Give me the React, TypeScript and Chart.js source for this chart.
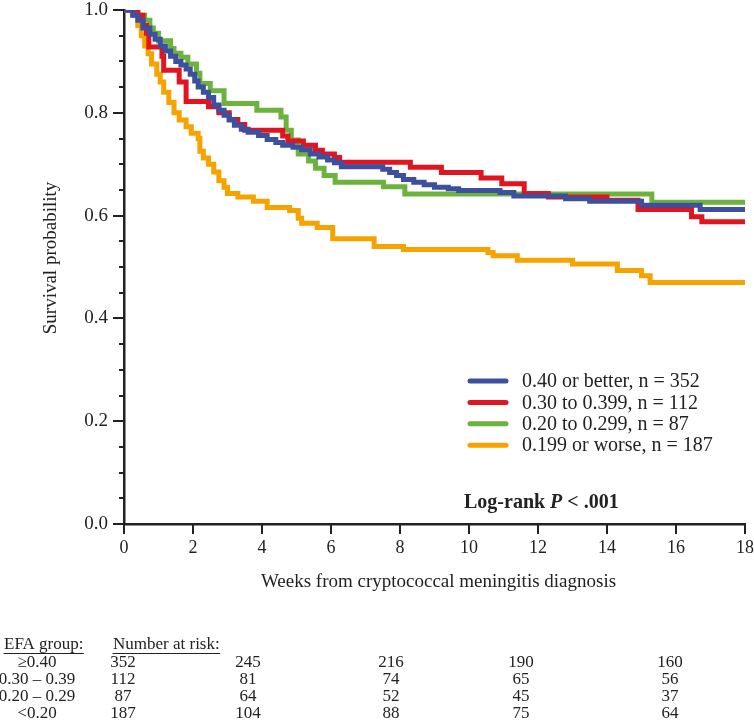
import React, { useEffect, useRef } from 'react';
import { Chart, registerables } from 'chart.js';

Chart.register(...registerables);

// ---------- data ----------
const seriesLabels = [
  '0.40 or better, n = 352',
  '0.30 to 0.399, n = 112',
  '0.20 to 0.299, n = 87',
  '0.199 or worse, n = 187',
];
const seriesColors = ['#3d4f9f', '#e2141f', '#6cb33e', '#f6a300'];

const blueWeeks = [0, 0.25, 0.4, 0.55, 0.75, 0.9, 1.05, 1.2, 1.35, 1.5, 1.65, 1.8, 1.92, 2.05, 2.15, 2.3, 2.45, 2.6, 2.75, 2.9, 3.05, 3.2, 3.4, 3.6, 3.9, 4.15, 4.4, 4.6, 4.9, 5.15, 5.4, 5.65, 5.9, 6.1, 6.3, 7.5, 7.7, 7.9, 8.1, 8.4, 8.7, 9.0, 9.4, 9.7, 10.9, 11.3, 12.8, 13.5, 15.0, 16.7, 18];
const blueSurv = [1.0, 0.99, 0.98, 0.965, 0.953, 0.943, 0.93, 0.92, 0.91, 0.9, 0.893, 0.885, 0.875, 0.862, 0.85, 0.84, 0.83, 0.815, 0.805, 0.795, 0.786, 0.776, 0.768, 0.762, 0.756, 0.748, 0.742, 0.737, 0.733, 0.728, 0.72, 0.714, 0.708, 0.703, 0.695, 0.69, 0.684, 0.678, 0.67, 0.665, 0.66, 0.655, 0.652, 0.649, 0.645, 0.638, 0.633, 0.628, 0.62, 0.612, 0.612];

const redWeeks = [0, 0.4, 0.55, 0.65, 0.72, 1.1, 1.15, 1.6, 1.8, 2.45, 2.75, 3.05, 3.3, 3.5, 4.6, 4.75, 5.2, 5.55, 5.75, 6.1, 6.25, 8.3, 9.2, 10.35, 10.95, 11.6, 12.3, 14.0, 14.9, 16.45, 16.75, 18];
const redSurv = [1.0, 0.99, 0.97, 0.955, 0.928, 0.91, 0.883, 0.86, 0.822, 0.812, 0.8, 0.787, 0.777, 0.766, 0.755, 0.745, 0.737, 0.727, 0.72, 0.713, 0.704, 0.694, 0.684, 0.673, 0.662, 0.643, 0.636, 0.63, 0.612, 0.598, 0.588, 0.588];

const greenWeeks = [0, 0.4, 0.6, 0.75, 0.85, 1.0, 1.35, 1.45, 1.65, 1.85, 2.1, 2.2, 2.5, 2.9, 3.85, 4.55, 4.7, 4.85, 5.05, 5.35, 5.55, 5.8, 6.12, 7.52, 8.14, 15.3, 18];
const greenSurv = [1.0, 0.99, 0.98, 0.965, 0.955, 0.94, 0.925, 0.916, 0.908, 0.895, 0.877, 0.857, 0.843, 0.818, 0.805, 0.792, 0.766, 0.747, 0.72, 0.706, 0.692, 0.678, 0.665, 0.656, 0.642, 0.626, 0.626];

const orangeWeeks = [0, 0.3, 0.4, 0.5, 0.6, 0.7, 0.8, 0.95, 1.05, 1.15, 1.3, 1.45, 1.6, 1.8, 1.95, 2.15, 2.2, 2.3, 2.45, 2.6, 2.75, 2.9, 3.0, 3.3, 3.75, 4.15, 4.8, 5.05, 5.15, 5.6, 6.05, 7.25, 8.1, 10.55, 10.7, 11.4, 13.0, 14.3, 15.0, 15.25, 18];
const orangeSurv = [1.0, 0.99, 0.97, 0.95, 0.93, 0.915, 0.895, 0.875, 0.86, 0.84, 0.82, 0.8, 0.786, 0.773, 0.76, 0.75, 0.725, 0.712, 0.7, 0.685, 0.668, 0.655, 0.643, 0.636, 0.628, 0.616, 0.61, 0.595, 0.585, 0.577, 0.555, 0.54, 0.534, 0.528, 0.522, 0.513, 0.506, 0.493, 0.483, 0.47, 0.47];

const xTickValues = [0, 2, 4, 6, 8, 10, 12, 14, 16, 18];
const yMajorTicks = [0, 0.2, 0.4, 0.6, 0.8, 1.0];
const yMinorTicks = [0.05, 0.1, 0.15, 0.25, 0.3, 0.35, 0.45, 0.5, 0.55, 0.65, 0.7, 0.75, 0.85, 0.9, 0.95];

const xTitle = 'Weeks from cryptococcal meningitis diagnosis';
const yTitle = 'Survival probability';

const riskGroupHeader = 'EFA group:';
const riskHeader = 'Number at risk:';
const riskGroups = ['\u22650.40', '0.30 \u2013 0.39', '0.20 \u2013 0.29', '<0.20'];
const riskCounts = [
  [352, 245, 216, 190, 160],
  [112, 81, 74, 65, 56],
  [87, 64, 52, 45, 37],
  [187, 104, 88, 75, 64],
];

// ---------- layout ----------
const FONT = '"Liberation Serif", "DejaVu Serif", serif';
const INK = '#222';
const riskColX = [123, 248, 391, 521, 670];
const riskRowY = [663, 680, 697, 714];

const decorPlugin = {
  id: 'decor',
  afterDraw(chart: any) {
    const ctx = chart.ctx;
    const xs = chart.scales.x;
    const ys = chart.scales.y;
    const ca = chart.chartArea;
    ctx.save();
    ctx.strokeStyle = INK;
    ctx.lineWidth = 2;
    ctx.lineCap = 'butt';
    // y ticks
    yMajorTicks.forEach((v) => {
      const py = Math.round(ys.getPixelForValue(v));
      ctx.beginPath();
      ctx.moveTo(ca.left - 11, py);
      ctx.lineTo(ca.left, py);
      ctx.stroke();
    });
    yMinorTicks.forEach((v) => {
      const py = Math.round(ys.getPixelForValue(v));
      ctx.beginPath();
      ctx.moveTo(ca.left - 5, py);
      ctx.lineTo(ca.left, py);
      ctx.stroke();
    });
    // x ticks
    xTickValues.forEach((v) => {
      const px = Math.round(xs.getPixelForValue(v));
      ctx.beginPath();
      ctx.moveTo(px, ca.bottom);
      ctx.lineTo(px, ca.bottom + 10);
      ctx.stroke();
    });

    ctx.fillStyle = INK;
    // axis titles
    ctx.font = `19px ${FONT}`;
    ctx.textAlign = 'center';
    ctx.textBaseline = 'middle';
    ctx.fillText(xTitle, (ca.left + ca.right) / 2 + 4, 582);
    ctx.save();
    ctx.translate(51, 258);
    ctx.rotate(-Math.PI / 2);
    ctx.fillText(yTitle, 0, 0);
    ctx.restore();

    // legend
    const legX = 470;
    const legY0 = 381;
    const legDy = 21.4;
    seriesLabels.forEach((lab, i) => {
      const y = legY0 + i * legDy;
      ctx.strokeStyle = seriesColors[i];
      ctx.lineWidth = 5;
      ctx.lineCap = 'round';
      ctx.beginPath();
      ctx.moveTo(legX, y);
      ctx.lineTo(legX + 36, y);
      ctx.stroke();
      ctx.fillStyle = INK;
      ctx.font = `20px ${FONT}`;
      ctx.textAlign = 'left';
      ctx.textBaseline = 'middle';
      ctx.fillText(lab, 522, y + 1);
    });

    // log-rank text
    let tx = 464;
    const ty = 503;
    ctx.textAlign = 'left';
    ctx.textBaseline = 'middle';
    ctx.fillStyle = INK;
    ctx.font = `bold 20px ${FONT}`;
    ctx.fillText('Log-rank ', tx, ty);
    tx += ctx.measureText('Log-rank ').width;
    ctx.font = `italic bold 20px ${FONT}`;
    ctx.fillText('P', tx, ty);
    tx += ctx.measureText('P').width;
    ctx.font = `bold 20px ${FONT}`;
    ctx.fillText(' < .001', tx, ty);

    // number at risk table
    ctx.font = `17px ${FONT}`;
    ctx.textBaseline = 'middle';
    ctx.lineWidth = 1;
    ctx.strokeStyle = INK;
    const headerY = 645;
    const drawUnderlined = (t: string, x: number) => {
      ctx.textAlign = 'left';
      ctx.fillText(t, x, headerY);
      const w = ctx.measureText(t).width;
      ctx.beginPath();
      ctx.moveTo(x, headerY + 8.5);
      ctx.lineTo(x + w, headerY + 8.5);
      ctx.stroke();
    };
    drawUnderlined(riskGroupHeader, 4);
    drawUnderlined(riskHeader, 113);
    riskGroups.forEach((g, r) => {
      ctx.textAlign = 'center';
      ctx.fillText(g, 37, riskRowY[r]);
      riskCounts[r].forEach((n, c) => {
        ctx.fillText(String(n), riskColX[c], riskRowY[r]);
      });
    });
    ctx.restore();
  },
};

function toPoints(weeks: number[], surv: number[]) {
  return weeks.map((w, i) => ({ x: w, y: surv[i] }));
}

export default function App() {
  const canvasRef = useRef<HTMLCanvasElement | null>(null);

  useEffect(() => {
    document.body.style.margin = '0';
    const canvas = canvasRef.current;
    if (!canvas) return;
    const seriesData = [
      toPoints(blueWeeks, blueSurv),
      toPoints(redWeeks, redSurv),
      toPoints(greenWeeks, greenSurv),
      toPoints(orangeWeeks, orangeSurv),
    ];
    const chart = new Chart(canvas, {
      type: 'line',
      data: {
        datasets: seriesData.map((d, i) => ({
          label: seriesLabels[i],
          data: d,
          borderColor: seriesColors[i],
          backgroundColor: seriesColors[i],
          borderWidth: 5,
          pointRadius: 0,
          stepped: true,
          fill: false,
          borderJoinStyle: 'miter' as const,
          borderCapStyle: 'butt' as const,
        })),
      },
      options: {
        animation: false,
        responsive: false,
        maintainAspectRatio: false,
        layout: { padding: { top: 10, right: 9, left: 0, bottom: 0 } },
        plugins: {
          legend: { display: false },
          tooltip: { enabled: false },
        },
        scales: {
          x: {
            type: 'linear',
            min: 0,
            max: 18,
            afterFit: (s: any) => {
              s.height = 200;
              s.paddingLeft = 0;
              s.paddingRight = 0;
            },
            grid: { display: false, drawTicks: false },
            border: { display: true, color: INK, width: 2.5 },
            ticks: {
              stepSize: 2,
              padding: 13,
              color: INK,
              font: { family: FONT, size: 18 },
              maxRotation: 0,
              autoSkip: false,
            },
          },
          y: {
            type: 'linear',
            min: 0,
            max: 1,
            afterFit: (s: any) => {
              s.width = 124;
              s.paddingTop = 0;
              s.paddingBottom = 0;
            },
            grid: { display: false, drawTicks: false },
            border: { display: true, color: INK, width: 2.5 },
            ticks: {
              stepSize: 0.2,
              padding: 16,
              color: INK,
              font: { family: FONT, size: 19 },
              callback: (v: any) => Number(v).toFixed(1),
            },
          },
        },
      },
      plugins: [decorPlugin],
    });
    return () => chart.destroy();
  }, []);

  return (
    <div style={{ width: 754, height: 724, background: '#fff' }}>
      <canvas ref={canvasRef} width={754} height={724} style={{ display: 'block', width: 754, height: 724 }} />
    </div>
  );
}
